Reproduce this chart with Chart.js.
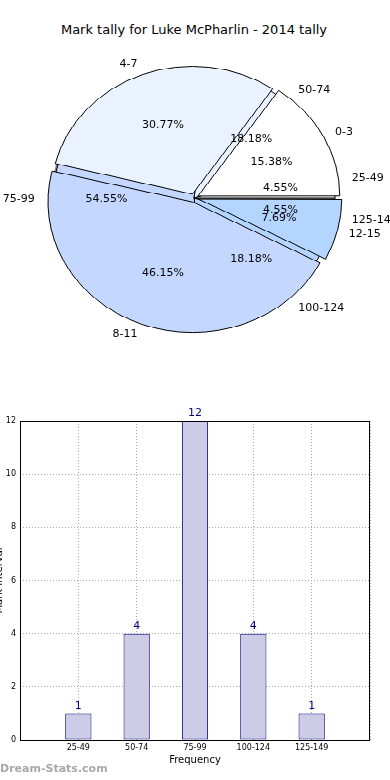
<!DOCTYPE html>
<html>
<head>
<meta charset="utf-8">
<script src="https://cdn.jsdelivr.net/npm/chart.js@4/dist/chart.umd.min.js"></script>
<style>
  body { margin: 0; background: #fff; width: 390px; height: 780px; overflow: hidden; position: relative; font-family: "DejaVu Sans", sans-serif; }
  #title { position: absolute; top: 22px; left: 0; width: 388px; text-align: center; font-size: 13px; color: #000; }
  #pieWrap { position: absolute; left: 0; top: 17px; width: 390px; height: 400px; transform: scaleY(0.905); transform-origin: 0 0; }
  .layer { position: absolute; left: 0; top: 0; width: 390px; height: 400px; }
  #shadowBox { left: -3px; top: 4px; }
  #pieLabels { position: absolute; left: 0; top: 0; width: 390px; height: 400px; }
  .plabel { position: absolute; font-size: 11px; line-height: 13px; color: #000; white-space: nowrap; }
  #barBox { position: absolute; left: -7px; top: 400px; width: 397px; height: 380px; }
  #mark { position: absolute; left: 0; top: 762px; font-size: 11px; font-weight: bold; color: #a8a8a8; }
</style>
</head>
<body>
<div id="title">Mark tally for Luke McPharlin - 2014 tally</div>
<div id="pieWrap">
  <div class="layer" id="shadowBox"><canvas id="shadowPie"></canvas></div>
  <div class="layer"><canvas id="markPie"></canvas></div>
  <div class="layer"><canvas id="tallyPie"></canvas></div>
</div>
<div id="pieLabels"></div>
<div id="barBox"><canvas id="barChart"></canvas></div>
<div id="mark">Dream-Stats.com</div>

<script>
// tally of marks per game
const tallyLabels = ["0-3", "4-7", "8-11", "12-15"];
const tallyCounts = [2, 4, 6, 1];

// marks per interval
const markLabels = ["25-49", "50-74", "75-99", "100-124", "125-149"];
const markCounts = [1, 4, 12, 4, 1];

const yTicks = [0, 2, 4, 6, 8, 10, 12];

const tallyColors = ["#ffffff", "#ebf2ff", "#c4d8ff", "#b3d5ff"];
const markColors = ["#ffffff", "#ebf2ff", "#c4d8ff", "#b3d5ff", "#ffffff"];

const SQUASH = 0.905; // pie is drawn as an ellipse
const PIE_TOP = 17;
const RADIUS = 141;

Chart.defaults.font.family = '"DejaVu Sans", sans-serif';
Chart.defaults.animation = false;
Chart.defaults.events = [];

// matplotlib goes counter-clockwise from 3 o'clock, chart.js goes clockwise
const rev = (a) => a.slice().reverse();

function pieOptions() {
  return {
    responsive: true,
    maintainAspectRatio: false,
    rotation: 90,
    radius: RADIUS,
    layout: { padding: { right: 2 } },
    plugins: { legend: { display: false }, tooltip: { enabled: false } },
  };
}

new Chart(document.getElementById("shadowPie"), {
  type: "pie",
  data: { labels: ["shadow"], datasets: [{ data: [1], backgroundColor: "#8a8a8a", borderWidth: 0 }] },
  options: pieOptions(),
});

const markPie = new Chart(document.getElementById("markPie"), {
  type: "pie",
  data: {
    labels: rev(markLabels),
    datasets: [{ data: rev(markCounts), backgroundColor: rev(markColors), borderColor: "#000", borderWidth: 1 }],
  },
  options: pieOptions(),
});

// Labels and percentages for both pies, placed as html text (not squashed)
const pieText = {
  id: "pieText",
  afterDraw(chart) {
    const box = document.getElementById("pieLabels");
    box.innerHTML = "";
    [chart, markPie].forEach((c) => {
      const meta = c.getDatasetMeta(0);
      const data = c.data.datasets[0].data;
      const total = data.reduce((a, b) => a + b, 0);
      meta.data.forEach((arc, i) => {
        const mid = (arc.startAngle + arc.endAngle) / 2;
        const r = arc.outerRadius;
        const put = (txt, k, align) => {
          const el = document.createElement("div");
          el.className = "plabel";
          el.textContent = txt;
          el.style.left = arc.x + k * r * Math.cos(mid) + "px";
          el.style.top = PIE_TOP + (arc.y + k * r * Math.sin(mid)) * SQUASH + "px";
          const dx = align === "left" ? "0" : align === "right" ? "-100%" : "-50%";
          el.style.transform = "translate(" + dx + ",-50%)";
          box.appendChild(el);
        };
        put(c.data.labels[i], 1.13, Math.cos(mid) > 0 ? "left" : "right");
        put(((data[i] / total) * 100).toFixed(2) + "%", 0.62, "center");
      });
    });
  },
};

new Chart(document.getElementById("tallyPie"), {
  type: "pie",
  data: {
    labels: rev(tallyLabels),
    datasets: [{ data: rev(tallyCounts), backgroundColor: rev(tallyColors), borderColor: "#000", borderWidth: 1, offset: 18 }],
  },
  options: pieOptions(),
  plugins: [pieText],
});

// Bar chart: numbers over bars and a full frame
const barValues = {
  id: "barValues",
  afterDatasetsDraw(chart) {
    const ctx = chart.ctx;
    const meta = chart.getDatasetMeta(0);
    ctx.save();
    ctx.font = '11px "DejaVu Sans"';
    ctx.fillStyle = "#000080";
    ctx.textAlign = "center";
    ctx.textBaseline = "bottom";
    meta.data.forEach((bar, i) => {
      const v = chart.data.datasets[0].data[i];
      if (v == null) return;
      ctx.fillText(v, bar.x, bar.y - 2);
    });
    ctx.restore();
  },
};
const frame = {
  id: "frame",
  afterDraw(chart) {
    const a = chart.chartArea;
    const ctx = chart.ctx;
    ctx.save();
    ctx.strokeStyle = "#000";
    ctx.lineWidth = 1;
    ctx.strokeRect(Math.round(a.left) + 0.5, Math.round(a.top) + 0.5, Math.round(a.right - a.left) - 1, Math.round(a.bottom - a.top));
    ctx.restore();
  },
};

const gridStyle = { color: "#a8a8a8", lineWidth: 1, drawTicks: false };

new Chart(document.getElementById("barChart"), {
  type: "bar",
  data: {
    labels: ["", ...markLabels, ""],
    datasets: [{
      data: [null, ...markCounts, null],
      backgroundColor: "#ccccE6",
      borderColor: "#000080",
      borderWidth: 1,
      borderSkipped: false,
      barPercentage: 0.45,
      categoryPercentage: 1,
    }],
  },
  options: {
    responsive: true,
    maintainAspectRatio: false,
    layout: { padding: { top: 21, right: 20, left: 0, bottom: 0 } },
    plugins: { legend: { display: false }, tooltip: { enabled: false } },
    scales: {
      x: {
        offset: false,
        grid: { ...gridStyle, offset: false },
        border: { display: false, dash: [1, 2] },
        ticks: { color: "#000", font: { size: 8 }, padding: 3, autoSkip: false, maxRotation: 0 },
        title: { display: true, text: "Frequency", color: "#000", font: { size: 10 }, padding: { top: 0, bottom: 14 } },
        afterFit: (s) => { s.height = 40; },
      },
      y: {
        min: 0,
        max: 12,
        afterBuildTicks: (s) => { s.ticks = yTicks.map((v) => ({ value: v })); },
        grid: gridStyle,
        border: { display: false, dash: [1, 2] },
        ticks: { color: "#000", font: { size: 8 }, padding: 4 },
        title: { display: true, text: "Mark Interval", color: "#000", font: { size: 10 }, padding: 0 },
        afterFit: (s) => { s.width = 27; },
      },
    },
  },
  plugins: [barValues, frame],
});
</script>
</body>
</html>
